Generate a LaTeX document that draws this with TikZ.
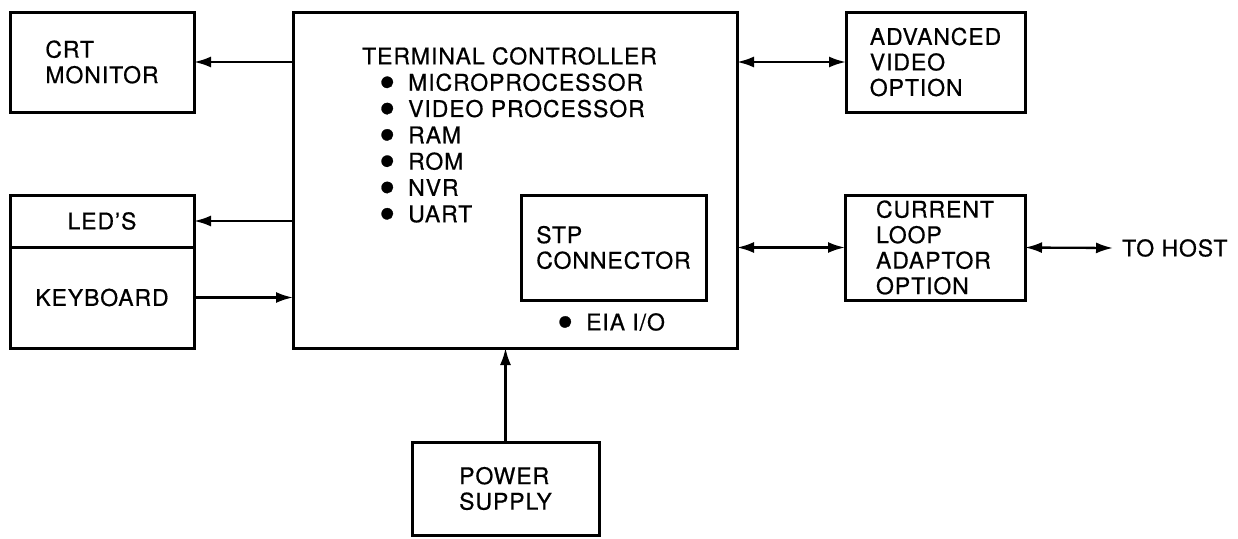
\documentclass[tikz,border=0pt]{standalone}
\usepackage{fontspec}
\setmainfont{TeX Gyre Heros}[LetterSpace=4,FakeBold=0.6]
\usetikzlibrary{arrows.meta}
\usetikzlibrary{positioning}
\newcommand{\blt}{\makebox[29pt][l]{\smash{\raisebox{-7.5pt}{\scalebox{2}{\textbullet}}}}}

\begin{document}
\begin{tikzpicture}[x=1pt,y=-1pt,
		block/.style={draw,line width=3pt,rectangle,inner sep=0pt,outer sep=0pt,align=left,font=\fontsize{23}{25.5}\selectfont},
		txt/.style={inner sep=0pt,align=left,font=\fontsize{23}{26.3}\selectfont},
		link/.style={line width=2.3pt,-{Latex[length=17pt,width=11pt]}},
		both/.style={link,{Latex[length=17pt,width=11pt]}-{Latex[length=17pt,width=11pt]}}]
	\useasboundingbox (0,0) rectangle (1238,538);
	\node[block,minimum width=184pt,minimum height=100pt] (crt) at (102,62) {CRT\\MONITOR};
	\node[block,minimum width=184pt,minimum height=52pt] (leds) at (102,221) {LED'S};
	\node[block,minimum width=184pt,minimum height=101pt,below=0pt of leds] (kbd) {KEYBOARD};
	\node[block,minimum width=444pt,minimum height=336pt] (ctrl) at (515,180) {};
	\node[txt,anchor=north west] (ctrltxt) at (362,47) {TERMINAL CONTROLLER\\
		\hspace*{17pt}\blt MICROPROCESSOR\\
		\hspace*{17pt}\blt VIDEO PROCESSOR\\
		\hspace*{17pt}\blt RAM\\
		\hspace*{17pt}\blt ROM\\
		\hspace*{17pt}\blt NVR\\
		\hspace*{17pt}\blt UART};
	\node[block,minimum width=185pt,minimum height=105pt] (stp) at (613.5,247.5) {STP\\CONNECTOR};
	\node[txt,anchor=west] (eia) at (557,322) {\blt EIA I/O};
	\node[block,minimum width=179pt,minimum height=100pt] (adv) at (935.5,62) {ADVANCED\\VIDEO\\OPTION};
	\node[block,minimum width=180pt,minimum height=105pt] (cla) at (935,247.5) {CURRENT\\LOOP\\ADAPTOR\\OPTION};
	\node[txt,anchor=west,inner xsep=9pt] (host) at (1113,248) {TO HOST};
	\node[block,minimum width=187pt,minimum height=93pt] (psu) at (505.5,488.5) {POWER\\SUPPLY};
	\draw[link] (ctrl.west |- crt.east) -- (crt.east);
	\draw[link] (ctrl.west |- leds.east) -- (leds.east);
	\draw[link] (kbd.east) -- (kbd.east -| ctrl.west);
	\draw[both] (ctrl.east |- adv.west) -- (adv.west);
	\draw[both] (ctrl.east |- cla.west) -- (cla.west);
	\draw[both] (cla.east) -- (host.west);
	\draw[link] (psu.north) -- (psu.north |- ctrl.south);
\end{tikzpicture}
\end{document}
